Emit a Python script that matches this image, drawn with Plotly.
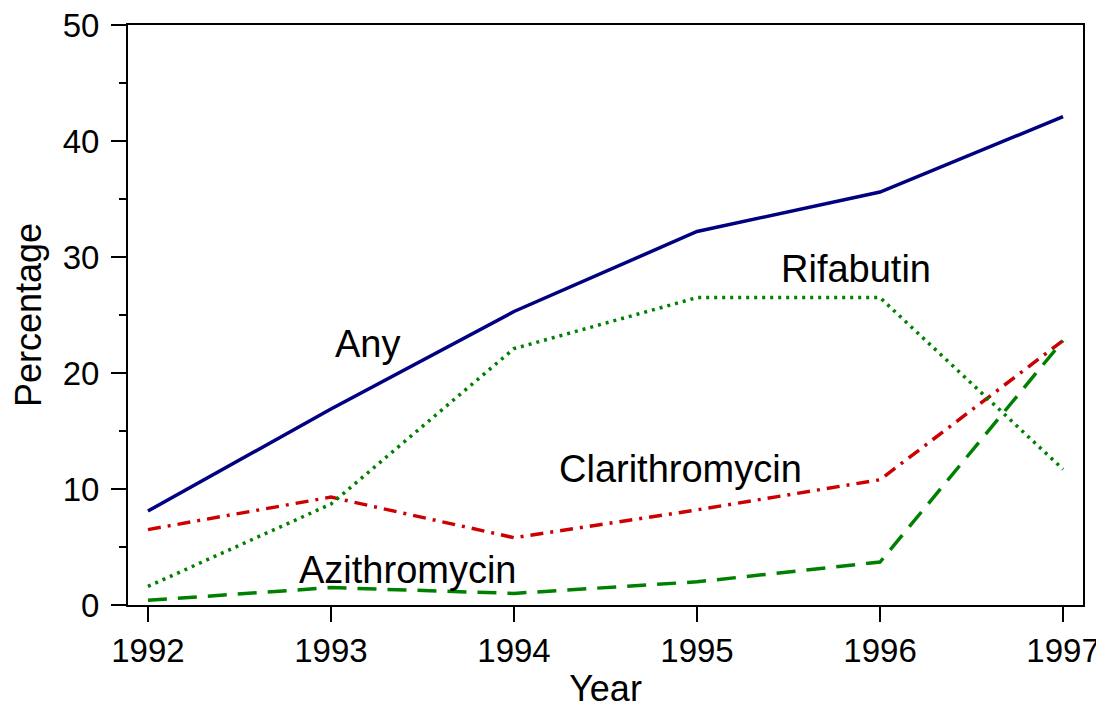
import plotly.graph_objects as go

years = [1992, 1993, 1994, 1995, 1996, 1997]
any_use = [8.1, 16.9, 25.3, 32.2, 35.6, 42.1]
clarithromycin = [6.5, 9.3, 5.8, 8.2, 10.8, 22.8]
rifabutin = [1.6, 8.7, 22.1, 26.5, 26.5, 11.7]
azithromycin = [0.4, 1.5, 1.0, 2.0, 3.7, 22.8]

labels = ["Any", "Rifabutin", "Clarithromycin", "Azithromycin"]
label_x = [1993.2, 1995.87, 1994.91, 1993.42]
label_y = [22.5, 29.0, 11.7, 3.0]

FONT = "Liberation Sans, Arial, sans-serif"

fig = go.Figure()
series = [
    (any_use, "#000080", "solid"),
    (clarithromycin, "#cc0000", "13px,7px,3px,7px"),
    (rifabutin, "#008000", "3px,5px"),
    (azithromycin, "#008000", "19px,11px"),
]
for vals, color, dash in series:
    fig.add_trace(go.Scatter(
        x=years, y=vals, mode="lines",
        line=dict(color=color, width=3.5, dash=dash),
        showlegend=False, hoverinfo="skip"))

for t, x, y in zip(labels, label_x, label_y):
    fig.add_annotation(x=x, y=y, text=t, showarrow=False,
                       font=dict(family=FONT, size=38, color="black"))

fig.update_layout(
    width=1096, height=701,
    margin=dict(l=120, r=21, t=17, b=104),
    paper_bgcolor="white", plot_bgcolor="white",
    font=dict(family=FONT, color="black"),
)
fig.update_xaxes(
    range=[1991.891, 1997.109], tickvals=years, ticktext=[str(y) for y in years],
    ticks="outside", ticklen=15, tickwidth=2, tickcolor="black",
    showline=True, linewidth=2, linecolor="black", mirror=True,
    showgrid=False, zeroline=False, automargin=False,
    tickfont=dict(size=33, family=FONT), ticklabeloverflow="allow",
    ticklabelstandoff=0,
    title=dict(text="Year", font=dict(size=36, family=FONT), standoff=14),
)
fig.update_yaxes(
    range=[0, 50], tickvals=[0, 10, 20, 30, 40, 50],
    ticks="outside", ticklen=15, tickwidth=2, tickcolor="black",
    minor=dict(ticks="outside", ticklen=7, tickwidth=2, tickcolor="black", dtick=5, tick0=0, showgrid=False),
    showline=True, linewidth=2, linecolor="black", mirror=True,
    showgrid=False, zeroline=False, automargin=False,
    tickfont=dict(size=33, family=FONT), ticklabeloverflow="allow",
    ticklabelstandoff=5,
    title=dict(text="Percentage", font=dict(size=36, family=FONT), standoff=10),
)

fig.write_html("out.html")
